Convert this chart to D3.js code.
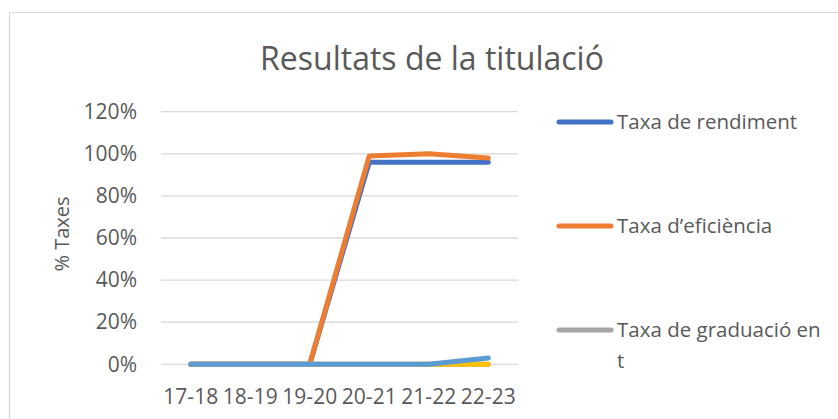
<!DOCTYPE html>
<html>
<head>
<meta charset="utf-8">
<script src="https://cdn.jsdelivr.net/npm/d3@7"></script>
<style>
  html, body { margin: 0; padding: 0; background: #fff; }
  svg { display: block; font-family: "Open Sans", "Noto Sans", sans-serif; }
</style>
</head>
<body>
<svg id="chart" width="838" height="419"></svg>
<script>
// Academic years on the category axis
const categories = ["17-18", "18-19", "19-20", "20-21", "21-22", "22-23"];

// Rates per year (fractions of 1)
const taxaRendiment  = [0, 0, 0, 0.96, 0.96, 0.96];
const taxaEficiencia = [0, 0, 0, 0.99, 1.00, 0.98];
const taxaGraduacio  = [0, 0, 0, 0, 0, 0];
const serie4         = [0, 0, 0, 0, 0, 0];
const serie5         = [0, 0, 0, 0, 0, 0.03];

const yTicks = [0, 0.2, 0.4, 0.6, 0.8, 1.0, 1.2];

const series = [
  { name: "Taxa de rendiment",        values: taxaRendiment,  color: "#4472C4", legend: true },
  { name: "Taxa d\u2019efici\u00e8ncia", values: taxaEficiencia, color: "#ED7D31", legend: true },
  { name: "Taxa de graduaci\u00f3 en t", values: taxaGraduacio,  color: "#A5A5A5", legend: true },
  { name: "S\u00e8rie 4",              values: serie4,         color: "#FFC000", legend: false },
  { name: "S\u00e8rie 5",              values: serie5,         color: "#5B9BD5", legend: false }
];

const svg = d3.select("#chart");
const textColor = "#595959";
const fontFamily = "Open Sans, Noto Sans, sans-serif";

// Chart area frame (top and left edges visible)
svg.append("path")
  .attr("d", "M9.5,419 V12.5 H838")
  .attr("fill", "none")
  .attr("stroke", "#D9D9D9")
  .attr("stroke-width", 1.2);

// Title
svg.append("text")
  .attr("x", 432)
  .attr("y", 70)
  .attr("text-anchor", "middle")
  .attr("fill", textColor)
  .attr("font-size", 32)
  .text("Resultats de la titulaci\u00f3");

const plot = { left: 161, right: 518, top: 111.7, bottom: 364.3 };

const x = d3.scaleBand().domain(categories).range([plot.left, plot.right]);
const y = d3.scaleLinear().domain([0, 1.2]).range([plot.bottom, plot.top]);

// Horizontal gridlines
svg.append("g")
  .selectAll("line")
  .data(yTicks)
  .join("line")
  .attr("x1", plot.left)
  .attr("x2", plot.right)
  .attr("y1", d => y(d))
  .attr("y2", d => y(d))
  .attr("stroke", "#D9D9D9")
  .attr("stroke-width", 1.3);

// Y axis labels
const yAxis = d3.axisLeft(y)
  .tickValues(yTicks)
  .tickFormat(d3.format(".0%"))
  .tickSize(0)
  .tickPadding(24);
svg.append("g")
  .attr("transform", `translate(${plot.left},0)`)
  .call(yAxis)
  .call(g => g.select(".domain").remove())
  .call(g => g.selectAll("text")
    .attr("fill", textColor)
    .attr("font-size", 21)
    .attr("font-family", fontFamily));

// X axis labels
const xAxis = d3.axisBottom(x).tickSize(0).tickPadding(25);
svg.append("g")
  .attr("transform", `translate(0,${plot.bottom})`)
  .call(xAxis)
  .call(g => g.select(".domain").remove())
  .call(g => g.selectAll("text")
    .attr("fill", textColor)
    .attr("font-size", 21)
    .attr("font-family", fontFamily));

// Y axis title
svg.append("text")
  .attr("transform", `translate(69,${(plot.top + plot.bottom) / 2 - 4}) rotate(-90)`)
  .attr("text-anchor", "middle")
  .attr("fill", textColor)
  .attr("font-size", 20)
  .text("% Taxes");

// Series lines
const line = d3.line()
  .x((d, i) => x(categories[i]) + x.bandwidth() / 2)
  .y(d => y(d));

svg.append("g")
  .selectAll("path")
  .data(series)
  .join("path")
  .attr("d", s => line(s.values))
  .attr("fill", "none")
  .attr("stroke", s => s.color)
  .attr("stroke-width", 5)
  .attr("stroke-linejoin", "round")
  .attr("stroke-linecap", "round");

// Legend
const legendItems = series.filter(s => s.legend);
const legendY = [122, 226, 330];
const legend = svg.append("g")
  .selectAll("g")
  .data(legendItems)
  .join("g")
  .attr("transform", (d, i) => `translate(0,${legendY[i]})`);

legend.append("line")
  .attr("x1", 559).attr("x2", 611)
  .attr("y1", 0).attr("y2", 0)
  .attr("stroke", d => d.color)
  .attr("stroke-width", 5)
  .attr("stroke-linecap", "round");

legend.append("text")
  .attr("x", 617)
  .attr("fill", textColor)
  .attr("font-size", 20.5)
  .each(function(d) {
    // Wrap long legend labels to the available width
    const words = d.name.split(" ");
    const t = d3.select(this);
    const maxWidth = 205;
    let tspan = t.append("tspan").attr("x", 617).attr("dy", "0.35em");
    let current = [];
    for (const w of words) {
      current.push(w);
      tspan.text(current.join(" "));
      if (tspan.node().getComputedTextLength() > maxWidth && current.length > 1) {
        current.pop();
        tspan.text(current.join(" "));
        current = [w];
        tspan = t.append("tspan").attr("x", 617).attr("dy", "31px").text(w);
      }
    }
  });
</script>
</body>
</html>
